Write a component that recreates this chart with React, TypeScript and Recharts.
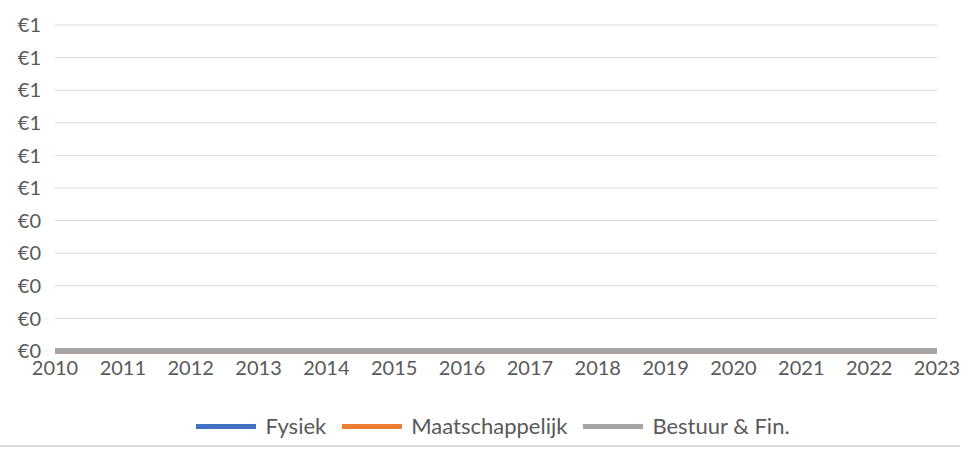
import React from "react";
import {
  LineChart,
  Line,
  XAxis,
  YAxis,
  CartesianGrid,
  Legend,
} from "recharts";

// ─── Data ─────────────────────────────────────────────────────────────────────

const YEARS = [
  "2010", "2011", "2012", "2013", "2014", "2015", "2016",
  "2017", "2018", "2019", "2020", "2021", "2022", "2023",
];

const FYSIEK = [0, 0, 0, 0, 0, 0, 0, 0, 0, 0, 0, 0, 0, 0];
const MAATSCHAPPELIJK = [0, 0, 0, 0, 0, 0, 0, 0, 0, 0, 0, 0, 0, 0];
const BESTUUR_FIN = [0, 0, 0, 0, 0, 0, 0, 0, 0, 0, 0, 0, 0, 0];

const Y_TICKS = [0, 0.1, 0.2, 0.3, 0.4, 0.5, 0.6, 0.7, 0.8, 0.9, 1];

const SERIES = [
  { key: "fysiek", name: "Fysiek", color: "#4472c4" },
  { key: "maatschappelijk", name: "Maatschappelijk", color: "#ed7d31" },
  { key: "bestuur", name: "Bestuur & Fin.", color: "#a5a5a5" },
];

const data = YEARS.map((year, i) => ({
  year,
  fysiek: FYSIEK[i],
  maatschappelijk: MAATSCHAPPELIJK[i],
  bestuur: BESTUUR_FIN[i],
}));

const FONT = "Lato, 'Open Sans', sans-serif";
const TEXT_COLOR = "#595959";

// ─── Legend ───────────────────────────────────────────────────────────────────

function ChartLegend() {
  return (
    <div
      style={{
        display: "flex",
        justifyContent: "center",
        alignItems: "center",
        gap: 16,
        fontFamily: FONT,
        fontSize: 22,
        lineHeight: "26px",
        color: TEXT_COLOR,
      }}
    >
      {SERIES.map((s) => (
        <div key={s.key} style={{ display: "flex", alignItems: "center", gap: 9 }}>
          <div style={{ width: 60, height: 5, background: s.color }} />
          <span>{s.name}</span>
        </div>
      ))}
    </div>
  );
}

// ─── Component ────────────────────────────────────────────────────────────────

export default function App() {
  return (
    <div style={{ position: "absolute", left: 0, top: 0, width: 969, height: 450, background: "white" }}>
      <LineChart
        width={969}
        height={450}
        data={data}
        margin={{ top: 25, right: 32, left: 0, bottom: 43 }}
      >
        <CartesianGrid horizontal vertical={false} stroke="#d9d9d9" strokeWidth={1} />
        <XAxis
          dataKey="year"
          interval={0}
          axisLine={false}
          tickLine={false}
          tickSize={0}
          tickMargin={10}
          height={30}
          tick={{ fontSize: 20, fill: TEXT_COLOR, fontFamily: FONT }}
        />
        <YAxis
          domain={[0, 1]}
          ticks={Y_TICKS}
          interval={0}
          width={55}
          axisLine={false}
          tickLine={false}
          tickSize={0}
          tickMargin={14}
          tickFormatter={(v: number) => "€" + Math.round(v)}
          tick={{ fontSize: 20, fill: TEXT_COLOR, fontFamily: FONT }}
        />
        <Legend
          content={() => <ChartLegend />}
          wrapperStyle={{ left: 0, width: 986, top: 413 }}
        />
        {SERIES.map((s) => (
          <Line
            key={s.key}
            type="linear"
            dataKey={s.key}
            name={s.name}
            stroke={s.color}
            strokeWidth={5}
            dot={false}
            isAnimationActive={false}
          />
        ))}
      </LineChart>
      <div
        style={{
          position: "absolute",
          left: 0,
          top: 445,
          width: 960,
          height: 0,
          borderTop: "2px solid #d9d9d9",
        }}
      />
    </div>
  );
}
